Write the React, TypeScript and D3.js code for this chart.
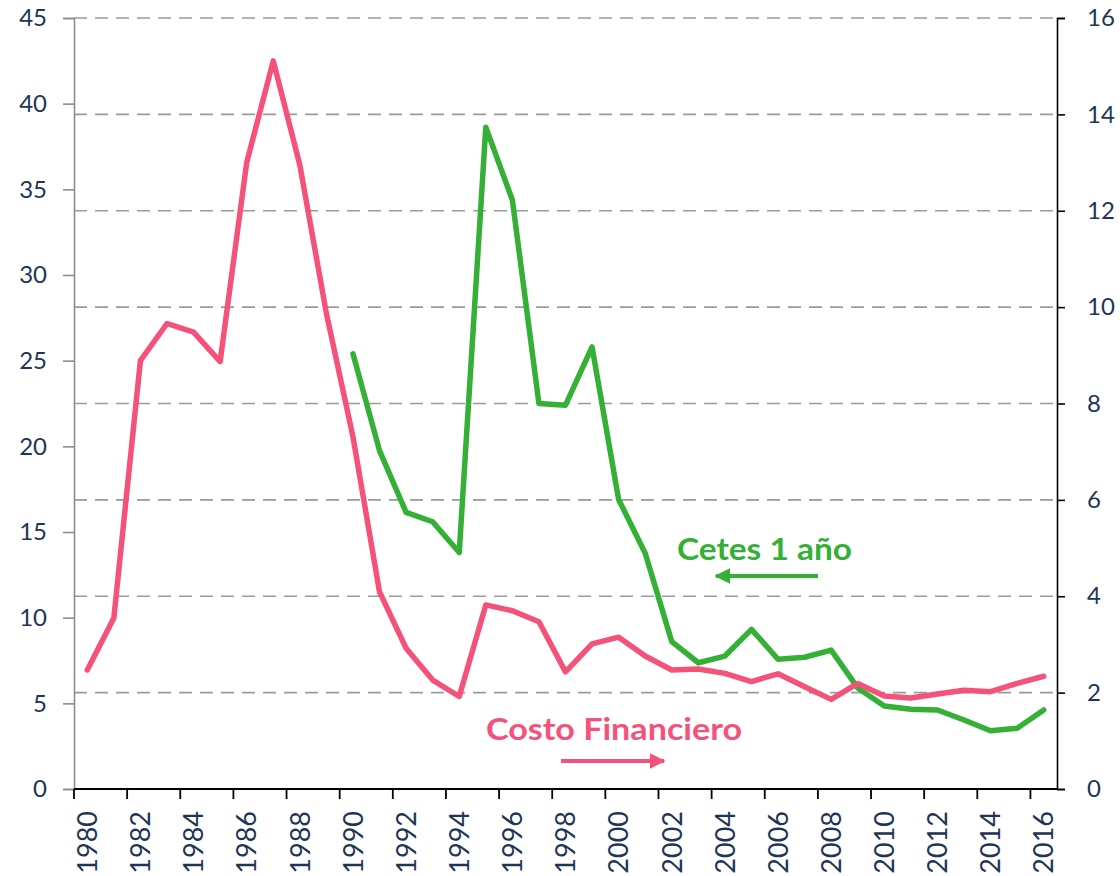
import React, { useEffect, useRef } from 'react'
import * as d3 from 'd3'

// años del eje x
const years = d3.range(1980, 2017).map(String)

// Costo Financiero (eje derecho)
const costoFinanciero = [
  2.47, 3.55, 8.89, 9.66, 9.48, 8.87, 13.0, 15.11, 12.95, 9.87,
  7.31, 4.09, 2.92, 2.26, 1.92, 3.82, 3.70, 3.47, 2.43, 3.01,
  3.15, 2.76, 2.47, 2.49, 2.40, 2.23, 2.39, 2.12, 1.86, 2.19,
  1.93, 1.89, 1.97, 2.05, 2.02, 2.19, 2.34,
]

// Cetes 1 año (eje izquierdo), sin datos antes de 1990
const cetes = [
  null, null, null, null, null, null, null, null, null, null,
  25.4, 19.75, 16.15, 15.6, 13.8, 38.63, 34.38, 22.5, 22.4, 25.8,
  16.9, 13.76, 8.6, 7.37, 7.76, 9.32, 7.57, 7.69, 8.11, 5.9,
  4.85, 4.65, 4.61, 4.03, 3.4, 3.54, 4.61,
]

const leftTicks = [0, 5, 10, 15, 20, 25, 30, 35, 40, 45]
const rightTicks = [0, 2, 4, 6, 8, 10, 12, 14, 16]
const yearTicks = years.filter((d, i) => i % 2 === 0)

const width = 1120
const height = 876
const left = 74
const right = 1057
const top = 18
const bottom = 789

const navy = '#1F3556'
const pink = '#F5527A'
const green = '#33B035'
const font = 'Lato, "Open Sans", sans-serif'

function App() {
  const svgRef = useRef(null)

  useEffect(() => {
    const svg = d3.select(svgRef.current)
    svg.selectAll('*').remove()

    const x = d3.scaleBand().domain(years).range([left, right])
    const yLeft = d3.scaleLinear().domain([0, 45]).range([bottom, top])
    const yRight = d3.scaleLinear().domain([0, 16]).range([bottom, top])
    const cx = (d) => x(d) + x.bandwidth() / 2

    const defs = svg.append('defs')
    const marker = (id, color) => {
      defs.append('marker')
        .attr('id', id)
        .attr('viewBox', '0 0 10 10')
        .attr('refX', 9)
        .attr('refY', 5)
        .attr('markerWidth', 4)
        .attr('markerHeight', 4)
        .attr('markerUnits', 'strokeWidth')
        .attr('orient', 'auto')
        .append('path')
        .attr('d', 'M0,0 L10,5 L0,10 z')
        .attr('fill', color)
    }
    marker('arrow-green', green)
    marker('arrow-pink', pink)

    // líneas de cuadrícula (eje derecho)
    svg.append('g')
      .selectAll('line')
      .data(rightTicks.filter(d => d > 0))
      .enter().append('line')
      .attr('x1', left)
      .attr('x2', right)
      .attr('y1', d => yRight(d))
      .attr('y2', d => yRight(d))
      .attr('stroke', '#9A9A9A')
      .attr('stroke-width', 1.6)
      .attr('stroke-dasharray', '13,8')

    // eje izquierdo
    const gl = svg.append('g')
      .attr('transform', `translate(${left},0)`)
      .call(d3.axisLeft(yLeft).tickValues(leftTicks).tickSize(11).tickPadding(16))
    gl.select('.domain').attr('stroke', '#8C8C8C').attr('stroke-width', 1.6)
    gl.selectAll('.tick line').attr('stroke', '#8C8C8C').attr('stroke-width', 1.6)
    gl.selectAll('text')
      .style('font-family', font)
      .style('font-size', '24px')
      .attr('fill', navy)

    // eje derecho
    const gr = svg.append('g')
      .attr('transform', `translate(${right},0)`)
      .call(d3.axisRight(yRight).tickValues(rightTicks).tickSize(8).tickPadding(22))
    gr.select('.domain').attr('stroke', '#000').attr('stroke-width', 1.6)
    gr.selectAll('.tick line').attr('stroke', '#000').attr('stroke-width', 1.6)
    gr.selectAll('text')
      .style('font-family', font)
      .style('font-size', '24px')
      .attr('fill', navy)

    // eje x
    const gx = svg.append('g')
      .attr('transform', `translate(0,${bottom})`)
    gx.append('line')
      .attr('x1', left)
      .attr('x2', right)
      .attr('stroke', '#000')
      .attr('stroke-width', 1.8)
    gx.selectAll('.tk')
      .data(yearTicks)
      .enter().append('line')
      .attr('class', 'tk')
      .attr('x1', d => x(d))
      .attr('x2', d => x(d))
      .attr('y1', 0)
      .attr('y2', 10)
      .attr('stroke', '#000')
      .attr('stroke-width', 1.8)
    gx.selectAll('text')
      .data(yearTicks)
      .enter().append('text')
      .attr('transform', d => `translate(${cx(d)},22) rotate(-90)`)
      .attr('text-anchor', 'end')
      .attr('dy', '0.36em')
      .style('font-family', font)
      .style('font-size', '27px')
      .attr('fill', navy)
      .text(d => d)

    // series
    const lineCetes = d3.line()
      .defined(d => d[1] != null)
      .x(d => cx(d[0]))
      .y(d => yLeft(d[1]))
    const lineCosto = d3.line()
      .x(d => cx(d[0]))
      .y(d => yRight(d[1]))

    svg.append('path')
      .datum(years.map((y, i) => [y, cetes[i]]))
      .attr('d', lineCetes)
      .attr('fill', 'none')
      .attr('stroke', green)
      .attr('stroke-width', 5.5)
      .attr('stroke-linejoin', 'round')
      .attr('stroke-linecap', 'round')

    svg.append('path')
      .datum(years.map((y, i) => [y, costoFinanciero[i]]))
      .attr('d', lineCosto)
      .attr('fill', 'none')
      .attr('stroke', pink)
      .attr('stroke-width', 5.5)
      .attr('stroke-linejoin', 'round')
      .attr('stroke-linecap', 'round')

    // anotaciones
    svg.append('text')
      .attr('x', 677)
      .attr('y', 560)
      .attr('textLength', 175)
      .attr('lengthAdjust', 'spacingAndGlyphs')
      .style('font-family', font)
      .style('font-size', '30px')
      .style('font-weight', 700)
      .attr('fill', green)
      .text('Cetes 1 año')
    svg.append('line')
      .attr('x1', 818)
      .attr('x2', 716)
      .attr('y1', 576)
      .attr('y2', 576)
      .attr('stroke', green)
      .attr('stroke-width', 4)
      .attr('marker-end', 'url(#arrow-green)')

    svg.append('text')
      .attr('x', 486)
      .attr('y', 740)
      .attr('textLength', 256)
      .attr('lengthAdjust', 'spacingAndGlyphs')
      .style('font-family', font)
      .style('font-size', '30px')
      .style('font-weight', 700)
      .attr('fill', pink)
      .text('Costo Financiero')
    svg.append('line')
      .attr('x1', 561)
      .attr('x2', 664)
      .attr('y1', 761)
      .attr('y2', 761)
      .attr('stroke', pink)
      .attr('stroke-width', 4)
      .attr('marker-end', 'url(#arrow-pink)')
  }, [])

  return (
    <svg
      ref={svgRef}
      width={width}
      height={height}
      style={{ position: 'absolute', left: 0, top: 0, background: '#fff' }}
    />
  )
}

export default App
